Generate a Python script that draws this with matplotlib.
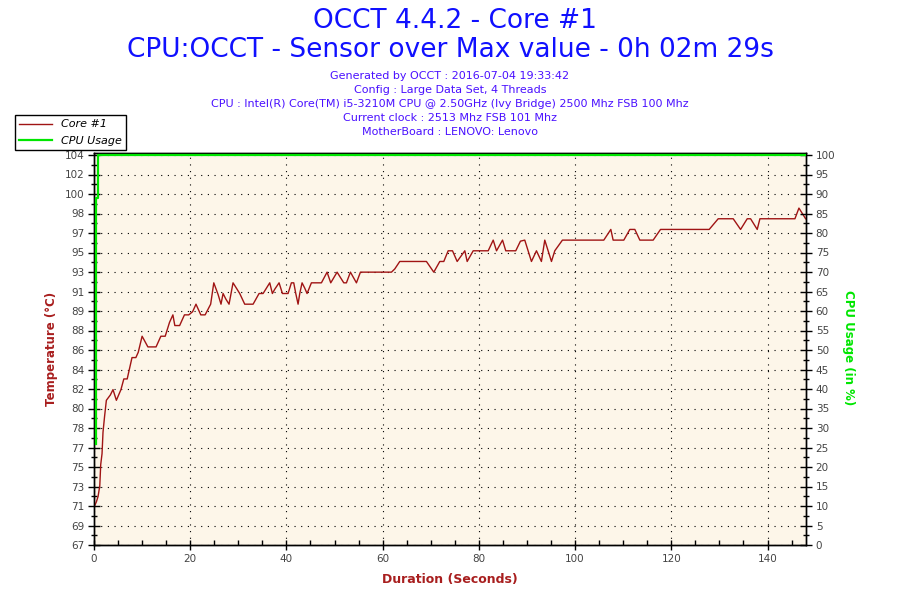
import numpy as np
import matplotlib
matplotlib.use('Agg')
import matplotlib.pyplot as plt
from matplotlib.ticker import MultipleLocator, FixedLocator
from matplotlib.lines import Line2D

# ---- data ----
temp_time = [0.0, 0.5, 0.85, 1.2, 1.4, 1.67, 1.87, 2.2, 2.57, 3.4, 3.95, 4.65, 5.6, 6.2, 6.9,
             7.4, 7.9, 8.7, 9.2, 10.0, 11.2, 12.9, 13.9, 14.8, 15.7, 16.4, 16.8, 17.8, 18.8,
             19.7, 20.5, 21.2, 22.2, 23.1, 24.25, 24.9, 25.8, 26.4, 26.83, 27.38, 28.07, 28.9,
             29.6, 30.29, 31.33, 33.07, 34.31, 35.15, 36.53, 37.08, 37.57, 38.47, 39.17, 40.34,
             41.03, 41.52, 41.94, 42.42, 42.77, 43.25, 43.81, 44.29, 45.19, 47.27, 48.45, 49.21,
             50.53, 51.92, 52.47, 53.3, 54.55, 55.38, 61.83, 62.52, 63.56, 69.1, 70.63, 71.88,
             72.71, 73.62, 74.52, 75.49, 77.08, 77.57, 78.82, 81.94, 82.98, 83.67, 84.92, 85.59,
             87.67, 88.64, 89.54, 90.93, 91.97, 93.0, 93.7, 95.09, 95.78, 97.37, 105.97, 107.43,
             107.91, 110.13, 111.38, 112.42, 113.46, 116.23, 117.76, 127.88, 129.75, 132.87,
             134.4, 135.78, 136.48, 137.86, 138.42, 139.46, 145.7, 146.53, 147.92]
temp_vals = [71, 71.5, 72, 73, 75, 76, 78, 79.5, 81, 81.5, 82, 81, 82, 83, 83,
             84, 85, 85, 85.5, 87, 86, 86, 87, 87, 88.3, 89, 88, 88, 89,
             89, 89.3, 90, 89, 89, 90, 92, 90.9, 90, 91, 90.5, 90, 92,
             91.5, 91, 90, 90, 91, 91, 92, 91, 91.4, 92, 91, 91,
             92, 92, 91, 90, 91, 92, 91.5, 91, 92, 92, 93, 92,
             93, 92, 92, 93, 92, 93, 93, 93.3, 94, 94, 93, 94,
             94, 95, 95, 94, 95, 94, 95, 95, 96, 95, 96, 95,
             95, 95.9, 96, 94, 95, 94, 96, 94, 95, 96, 96, 97,
             96, 96, 97, 97, 96, 96, 97, 97, 98, 98,
             97, 98, 98, 97, 98, 98, 98, 99, 98]

cpu_time = [0.35, 0.35, 0.77, 0.77, 148]
cpu_vals = [26, 89, 89, 100, 100]

temp_tick_labels = ['67', '69', '71', '73', '75', '77', '78', '80', '82', '84', '86',
                    '88', '89', '91', '93', '95', '97', '98', '100', '102', '104']
cpu_ticks = list(range(0, 101, 5))
x_ticks = [0, 20, 40, 60, 80, 100, 120, 140]

title1 = 'OCCT 4.4.2 - Core #1'
title2 = 'CPU:OCCT - Sensor over Max value - 0h 02m 29s'
info_lines = ['Generated by OCCT : 2016-07-04 19:33:42',
              'Config : Large Data Set, 4 Threads',
              'CPU : Intel(R) Core(TM) i5-3210M CPU @ 2.50GHz (Ivy Bridge) 2500 Mhz FSB 100 Mhz',
              'Current clock : 2513 Mhz FSB 101 Mhz',
              'MotherBoard : LENOVO: Lenovo']

# ---- styling ----
red = '#a01414'
green = '#00e600'
label_red = '#a81e1e'
tick_col = '#444444'
t_min, t_max = 67.45, 103.97
extra = 392 / 390  # axes box extends 2px above the top tick

fig = plt.figure(figsize=(9, 6), dpi=100)
ax = fig.add_axes([94/900, 55/600, 712/900, 392/600])
ax.set_facecolor('#fdf6e9')

ax.plot(temp_time, temp_vals, color=red, lw=1.0, zorder=3)
ax.set_xlim(0, 148)
ax.set_ylim(t_min, t_min + (t_max - t_min) * extra)
yt = np.linspace(t_min, t_max, len(temp_tick_labels))
ax.set_yticks(yt)
ax.set_yticklabels(temp_tick_labels)
ax.yaxis.set_minor_locator(FixedLocator((yt[:-1] + yt[1:]) / 2))
ax.set_xticks(x_ticks)
ax.xaxis.set_minor_locator(MultipleLocator(5))

ax.grid(True, which='major', color='black', linestyle=(0, (1, 5)), linewidth=0.8)
ax.set_axisbelow(True)

ax.tick_params(axis='y', which='major', direction='inout', length=8, width=1,
               labelsize=7.5, labelcolor=tick_col, pad=3)
ax.tick_params(axis='y', which='minor', direction='inout', length=5, width=1)
ax.tick_params(axis='x', which='major', direction='inout', length=7, width=1,
               labelsize=7.5, labelcolor=tick_col, pad=3)
ax.tick_params(axis='x', which='minor', direction='in', length=3.5, width=1)
for s in ax.spines.values():
    s.set_color('black')
    s.set_linewidth(1)

ax2 = ax.twinx()
ax2.plot(cpu_time, cpu_vals, color=green, lw=1.6, zorder=4)
ax2.set_ylim(0, 100 * extra)
ax2.set_yticks(cpu_ticks)
ax2.yaxis.set_minor_locator(FixedLocator(np.arange(2.5, 100, 5)))
ax2.tick_params(axis='y', which='major', direction='inout', length=8, width=1,
                labelsize=7.5, labelcolor=tick_col, pad=3)
ax2.tick_params(axis='y', which='minor', direction='inout', length=5, width=1)
for s in ax2.spines.values():
    s.set_color('black')
    s.set_linewidth(1)

# ---- texts ----
fig.text(0.505, 1 - 21/600, title1, ha='center', va='center', fontsize=19, color='#1010ff')
fig.text(0.5, 1 - 50/600, title2, ha='center', va='center', fontsize=19, color='#1010ff')
for i, line in enumerate(info_lines):
    fig.text(0.5, 1 - (76 + 14*i)/600, line, ha='center', va='center', fontsize=8,
             color='#4a10ff')

fig.text(52/900, 1 - 349/600, 'Temperature (°C)', rotation=90, ha='center', va='center',
         fontsize=8.5, fontweight='bold', color=label_red)
fig.text(848/900, 1 - 348/600, 'CPU Usage (in %)', rotation=-90, ha='center', va='center',
         fontsize=8.5, fontweight='bold', color=green)
fig.text(450/900, 1 - 580/600, 'Duration (Seconds)', ha='center', va='center',
         fontsize=9, fontweight='bold', color=label_red)

handles = [Line2D([], [], color=red, lw=1.0), Line2D([], [], color=green, lw=1.6)]
leg = fig.legend(handles, ['Core #1', 'CPU Usage'], loc='upper left',
                 bbox_to_anchor=(15/900, 1 - 115/600), borderaxespad=0,
                 prop={'style': 'italic', 'size': 8}, handlelength=2.9,
                 fancybox=False, framealpha=1, edgecolor='black', borderpad=0.4,
                 labelspacing=0.55, handletextpad=0.8)
leg.get_frame().set_linewidth(1)

fig.savefig('out.png', dpi=100)
